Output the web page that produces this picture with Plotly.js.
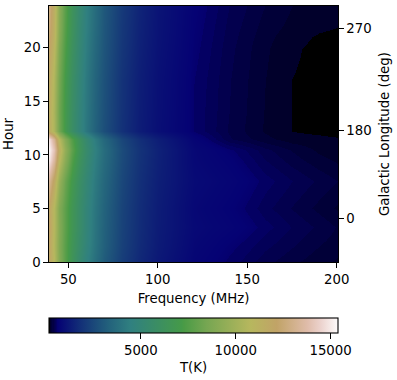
<!DOCTYPE html>
<html>
<head>
<meta charset="utf-8">
<script src="https://cdn.plot.ly/plotly-3.0.1.min.js"></script>
<style>html,body{margin:0;padding:0;background:#fff}</style>
</head>
<body>
<div id="chart" style="width:397px;height:380px"></div>
<script>
// Frequency (MHz) and hour grid
const freq = [39, 42, 45, 48, 52, 56, 60, 65, 70, 80, 90, 100, 120, 140, 160, 175, 190, 201];
const hours = [0, 1.5, 3.3, 5, 7.6, 9.5, 10.5, 11.5, 12.2, 14, 17, 20, 21, 22, 24];

// T(K), one row per hour
const temp = [
  [12000, 10800, 9000, 7700, 6400, 5400, 4600, 3800, 3100, 2200, 1600, 1200, 720, 560, 420, 355, 300, 265],
  [12000, 10600, 8900, 7700, 6500, 5600, 4800, 3950, 3250, 2300, 1680, 1270, 770, 610, 475, 405, 340, 305],
  [12200, 10700, 9000, 7800, 6600, 5700, 4900, 4000, 3300, 2350, 1720, 1300, 820, 700, 545, 455, 385, 330],
  [12000, 10700, 8900, 7800, 6600, 5700, 4900, 4050, 3350, 2380, 1740, 1320, 790, 650, 480, 395, 320, 265],
  [13300, 11800, 9700, 8200, 6900, 5900, 5100, 4200, 3500, 2480, 1810, 1380, 850, 720, 550, 460, 385, 335],
  [15000, 13500, 11000, 9200, 7500, 6300, 5400, 4400, 3650, 2580, 1880, 1430, 800, 650, 460, 370, 300, 265],
  [15300, 14000, 11500, 9500, 7800, 6500, 5500, 4500, 3700, 2600, 1900, 1450, 790, 600, 420, 335, 265, 240],
  [14800, 13200, 10800, 9000, 7500, 6300, 5300, 4300, 3500, 2450, 1780, 1350, 700, 410, 300, 245, 235, 225],
  [11600, 10400, 8400, 7000, 5800, 4900, 4100, 3300, 2700, 1850, 1300, 960, 570, 390, 270, 218, 205, 195],
  [11600, 10300, 8300, 7000, 5800, 4900, 4150, 3350, 2750, 1880, 1320, 980, 570, 400, 275, 218, 205, 195],
  [11800, 10500, 8500, 7100, 5900, 5000, 4200, 3400, 2800, 1900, 1350, 1000, 580, 405, 280, 219, 205, 195],
  [12200, 11000, 8800, 7400, 6100, 5150, 4350, 3550, 2900, 2000, 1420, 1050, 610, 420, 290, 228, 205, 195],
  [12400, 11200, 9000, 7500, 6200, 5200, 4400, 3600, 2930, 2030, 1440, 1070, 620, 430, 300, 240, 212, 203],
  [12600, 11300, 9100, 7600, 6250, 5250, 4450, 3650, 2950, 2050, 1460, 1080, 630, 440, 315, 260, 232, 221],
  [12800, 11400, 9200, 7700, 6300, 5300, 4500, 3700, 3000, 2100, 1500, 1100, 650, 460, 340, 280, 250, 240]
];

// Right axis labels and where they sit on the hour scale
const lonTicks = [4.1, 12.3, 21.8];
const lonLabels = ['0', '180', '270'];

// gist_earth, with its first few levels kept as hard steps
const gistEarth = [
  [0, 'rgb(0,0,0)'], [0.0039, 'rgb(0,0,0)'],
  [0.0039, 'rgb(1,0,43)'], [0.0078, 'rgb(1,0,43)'],
  [0.0078, 'rgb(1,0,56)'], [0.0118, 'rgb(1,0,56)'],
  [0.0118, 'rgb(2,0,67)'], [0.0157, 'rgb(2,0,67)'],
  [0.0157, 'rgb(3,0,78)'], [0.0196, 'rgb(3,0,78)'],
  [0.0196, 'rgb(3,0,88)'], [0.0235, 'rgb(3,0,88)'],
  [0.0235, 'rgb(4,0,99)'], [0.0275, 'rgb(4,0,99)'],
  [0.0275, 'rgb(5,0,110)'], [0.0314, 'rgb(5,2,116)'], [0.1098, 'rgb(19,48,120)'],
  [0.1647, 'rgb(28,77,122)'], [0.2078, 'rgb(35,98,124)'], [0.2824, 'rgb(48,128,128)'],
  [0.4588, 'rgb(69,154,73)'], [0.4667, 'rgb(74,155,70)'], [0.5451, 'rgb(118,166,82)'],
  [0.698, 'rgb(183,183,94)'], [0.7882, 'rgb(193,163,103)'], [0.8941, 'rgb(223,188,170)'],
  [0.9412, 'rgb(236,211,206)'], [1, 'rgb(253,251,251)']
];

const font = {family: 'DejaVu Sans, sans-serif', size: 13.3, color: '#000'};

const heat = {
  type: 'heatmap',
  x: freq,
  y: hours,
  z: temp,
  zmin: 160,
  zmax: 15390,
  zsmooth: 'best',
  colorscale: gistEarth,
  colorbar: {
    orientation: 'h',
    x: 0,
    xanchor: 'left',
    y: -0.21875,
    yanchor: 'top',
    len: 1,
    lenmode: 'fraction',
    thickness: 15,
    thicknessmode: 'pixels',
    xpad: 0,
    ypad: 0,
    outlinewidth: 1.1,
    outlinecolor: '#000',
    ticks: 'outside',
    ticklen: 5.5,
    tickwidth: 1.1,
    tickcolor: '#000',
    tickvals: [5000, 10000, 15000],
    ticktext: ['5000', '10000', '15000'],
    tickfont: font
  }
};

// empty trace so the overlaid right axis gets drawn
const lonAxisTrace = {
  type: 'scatter',
  x: [],
  y: [],
  yaxis: 'y2',
  hoverinfo: 'skip',
  showlegend: false
};

const layout = {
  width: 397,
  height: 380,
  paper_bgcolor: '#fff',
  plot_bgcolor: '#fff',
  font: font,
  showlegend: false,
  margin: {l: 48.5, r: 59, t: 6, b: 118, pad: 0, autoexpand: false},
  // colorbar title sits too close to its labels, so it goes here instead
  annotations: [{
    text: 'T(K)',
    xref: 'paper',
    yref: 'paper',
    x: 0.4974,
    y: -0.414,
    xanchor: 'center',
    yanchor: 'middle',
    showarrow: false,
    font: font
  }],
  xaxis: {
    range: [39.2, 200.7],
    tickvals: [50, 100, 150, 200],
    ticks: 'outside',
    ticklen: 4.6,
    tickwidth: 1.1,
    tickcolor: '#000',
    showgrid: false,
    zeroline: false,
    showline: true,
    linecolor: '#000',
    linewidth: 1.1,
    mirror: true,
    tickfont: font,
    automargin: true,
    title: {text: 'Frequency (MHz)', font: font, standoff: 8}
  },
  yaxis: {
    range: [0, 23.9],
    tickvals: [0, 5, 10, 15, 20],
    ticks: 'outside',
    ticklen: 4.6,
    tickwidth: 1.1,
    tickcolor: '#000',
    showgrid: false,
    zeroline: false,
    showline: true,
    linecolor: '#000',
    linewidth: 1.1,
    tickfont: font,
    automargin: true,
    title: {text: 'Hour', font: font, standoff: 7}
  },
  yaxis2: {
    overlaying: 'y',
    side: 'right',
    range: [0, 23.9],
    tickmode: 'array',
    tickvals: lonTicks,
    ticktext: lonLabels,
    ticks: 'outside',
    ticklen: 4.6,
    tickwidth: 1.1,
    tickcolor: '#000',
    showgrid: false,
    zeroline: false,
    showline: true,
    linecolor: '#000',
    linewidth: 1.1,
    tickfont: font,
    automargin: true,
    title: {text: 'Galactic Longitude (deg)', font: font, standoff: 8}
  }
};

Plotly.newPlot('chart', [heat, lonAxisTrace], layout, {displayModeBar: false});
</script>
</body>
</html>
